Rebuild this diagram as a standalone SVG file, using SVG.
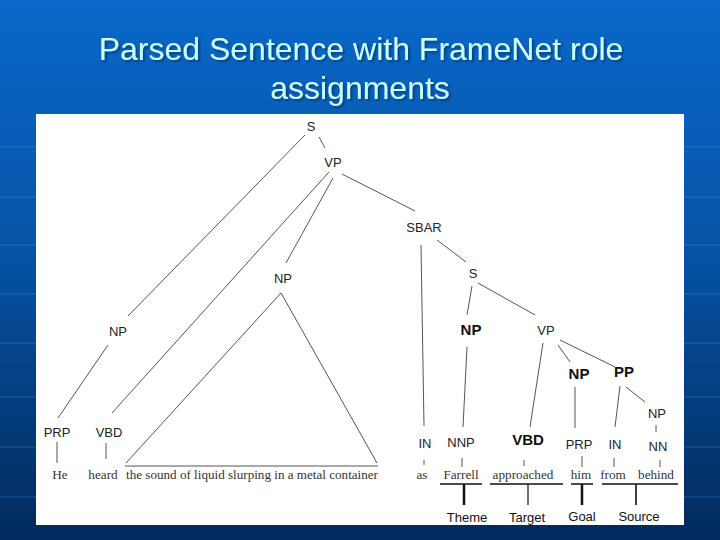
<svg xmlns="http://www.w3.org/2000/svg" width="720" height="540" viewBox="0 0 720 540">
<defs>
<linearGradient id="bg" x1="0" y1="0" x2="0" y2="1">
<stop offset="0" stop-color="#0a68c8"/>
<stop offset="0.45" stop-color="#0654a8"/>
<stop offset="1" stop-color="#022a5c"/>
</linearGradient>
<filter id="sh" x="-5%" y="-20%" width="110%" height="150%">
<feDropShadow dx="2" dy="2" stdDeviation="0.8" flood-color="#06306a" flood-opacity="0.7"/>
</filter>
</defs>
<style>
.title{font-family:"Liberation Sans",Arial,sans-serif;font-size:32px;fill:#ccffff;text-anchor:middle}
.lab{font-family:"Liberation Sans",Arial,sans-serif;font-size:13px;fill:#222;text-anchor:middle}
.bold{font-family:"Liberation Sans",Arial,sans-serif;font-size:15px;font-weight:bold;fill:#111;text-anchor:middle}
.word{font-family:"Liberation Serif","Times New Roman",serif;font-size:13.2px;fill:#333;text-anchor:middle}
.role{font-family:"Liberation Sans",Arial,sans-serif;font-size:13px;fill:#111;text-anchor:middle}
.ln{stroke:#555;stroke-width:1;fill:none}
.ul{stroke:#111;stroke-width:1.5;fill:none}
.grid{stroke:#5a9be0;stroke-width:1;opacity:0.35}
</style>
<rect x="0" y="0" width="720" height="540" fill="url(#bg)"/>
<g id="grid">
<line class="grid" x1="0" y1="147" x2="720" y2="147"/>
<line class="grid" x1="0" y1="197" x2="720" y2="197"/>
<line class="grid" x1="0" y1="245" x2="720" y2="245"/>
<line class="grid" x1="0" y1="294" x2="720" y2="294"/>
<line class="grid" x1="0" y1="343" x2="720" y2="343"/>
<line class="grid" x1="0" y1="397" x2="720" y2="397"/>
<line class="grid" x1="0" y1="447" x2="720" y2="447"/>
<line class="grid" x1="0" y1="497" x2="720" y2="497"/>
</g>
<g id="title" filter="url(#sh)">
<text class="title" x="361" y="60">Parsed Sentence with FrameNet role</text>
<text class="title" x="360" y="99">assignments</text>
</g>
<rect id="panel" x="36" y="114" width="648" height="411" fill="#ffffff"/>
<g id="connectors">
<line class="ln" x1="319" y1="137" x2="325" y2="148"/>
<line class="ln" x1="305" y1="135" x2="128" y2="316"/>
<line class="ln" x1="329" y1="172" x2="112" y2="413"/>
<line class="ln" x1="333" y1="178" x2="286" y2="263"/>
<line class="ln" x1="342" y1="174" x2="415" y2="211"/>
<line class="ln" x1="108" y1="345" x2="58" y2="418"/>
<line class="ln" x1="57" y1="442" x2="57" y2="463"/>
<line class="ln" x1="106" y1="443" x2="106" y2="459"/>
<polyline class="ln" points="126,463 281,293 377,463"/>
<line class="ln" x1="125" y1="466" x2="378" y2="466"/>
<line class="ln" x1="421" y1="245" x2="424" y2="426"/>
<line class="ln" x1="437" y1="240" x2="466" y2="262"/>
<line class="ln" x1="472" y1="286" x2="467" y2="315"/>
<line class="ln" x1="478" y1="283" x2="535" y2="315"/>
<line class="ln" x1="467" y1="347" x2="463" y2="427"/>
<line class="ln" x1="543" y1="343" x2="530" y2="427"/>
<line class="ln" x1="558" y1="345" x2="570" y2="362"/>
<line class="ln" x1="560" y1="340" x2="615" y2="367"/>
<line class="ln" x1="575" y1="387" x2="575" y2="428"/>
<line class="ln" x1="620" y1="386" x2="615" y2="427"/>
<line class="ln" x1="626" y1="387" x2="645" y2="402"/>
<line class="ln" x1="656" y1="425" x2="656" y2="432"/>
<line class="ln" x1="424" y1="460" x2="424" y2="465"/>
<line class="ln" x1="462" y1="458" x2="462" y2="467"/>
<line class="ln" x1="524" y1="460" x2="524" y2="466"/>
<line class="ln" x1="582" y1="456" x2="582" y2="467"/>
<line class="ln" x1="614" y1="458" x2="614" y2="467"/>
<line class="ln" x1="660" y1="460" x2="660" y2="467"/>
<line class="ul" x1="440" y1="484" x2="482" y2="484"/>
<line class="ul" x1="490" y1="484" x2="563" y2="484"/>
<line class="ul" x1="571" y1="484" x2="593" y2="484"/>
<line class="ul" x1="602" y1="484" x2="678" y2="484"/>
<line stroke="#111" stroke-width="2.5" x1="464" y1="484" x2="464" y2="505"/>
<line stroke="#111" stroke-width="1.2" x1="528" y1="484" x2="528" y2="505"/>
<line stroke="#111" stroke-width="2.5" x1="582" y1="484" x2="582" y2="505"/>
<line stroke="#111" stroke-width="1.6" x1="636" y1="484" x2="636" y2="505"/>
</g>
<g id="n-S1"><text class="lab" x="311" y="131">S</text></g>
<g id="n-VP1"><text class="lab" x="333" y="167">VP</text></g>
<g id="n-NP1"><text class="lab" x="118" y="336">NP</text></g>
<g id="n-NP2"><text class="lab" x="283" y="283">NP</text></g>
<g id="n-SBAR"><text class="lab" x="424" y="232">SBAR</text></g>
<g id="n-S2"><text class="lab" x="473" y="278">S</text></g>
<g id="n-NPb1"><text class="bold" x="471" y="335">NP</text></g>
<g id="n-VP2"><text class="lab" x="546" y="335">VP</text></g>
<g id="n-NPb2"><text class="bold" x="579" y="379">NP</text></g>
<g id="n-PP"><text class="bold" x="624" y="377">PP</text></g>
<g id="n-NP3"><text class="lab" x="657" y="418">NP</text></g>
<g id="n-PRP1"><text class="lab" x="57" y="437">PRP</text></g>
<g id="n-VBD1"><text class="lab" x="109" y="437">VBD</text></g>
<g id="n-IN1"><text class="lab" x="425" y="448">IN</text></g>
<g id="n-NNP"><text class="lab" x="461" y="447">NNP</text></g>
<g id="n-VBDb"><text class="bold" x="528" y="445">VBD</text></g>
<g id="n-PRP2"><text class="lab" x="579" y="449">PRP</text></g>
<g id="n-IN2"><text class="lab" x="615" y="449">IN</text></g>
<g id="n-NN"><text class="lab" x="658" y="451">NN</text></g>
<g id="words">
<text class="word" x="60" y="479">He</text>
<text class="word" x="103" y="479">heard</text>
<text class="word" x="252" y="479" textLength="252" lengthAdjust="spacingAndGlyphs">the sound of liquid slurping in a metal container</text>
<text class="word" x="422" y="479">as</text>
<text class="word" x="461" y="479">Farrell</text>
<text class="word" x="523" y="479">approached</text>
<text class="word" x="581" y="479">him</text>
<text class="word" x="613" y="479">from</text>
<text class="word" x="656" y="479">behind</text>
</g>
<g id="roles">
<text class="role" x="467" y="522">Theme</text>
<text class="role" x="527" y="522">Target</text>
<text class="role" x="582" y="521">Goal</text>
<text class="role" x="639" y="521">Source</text>
</g>
</svg>
